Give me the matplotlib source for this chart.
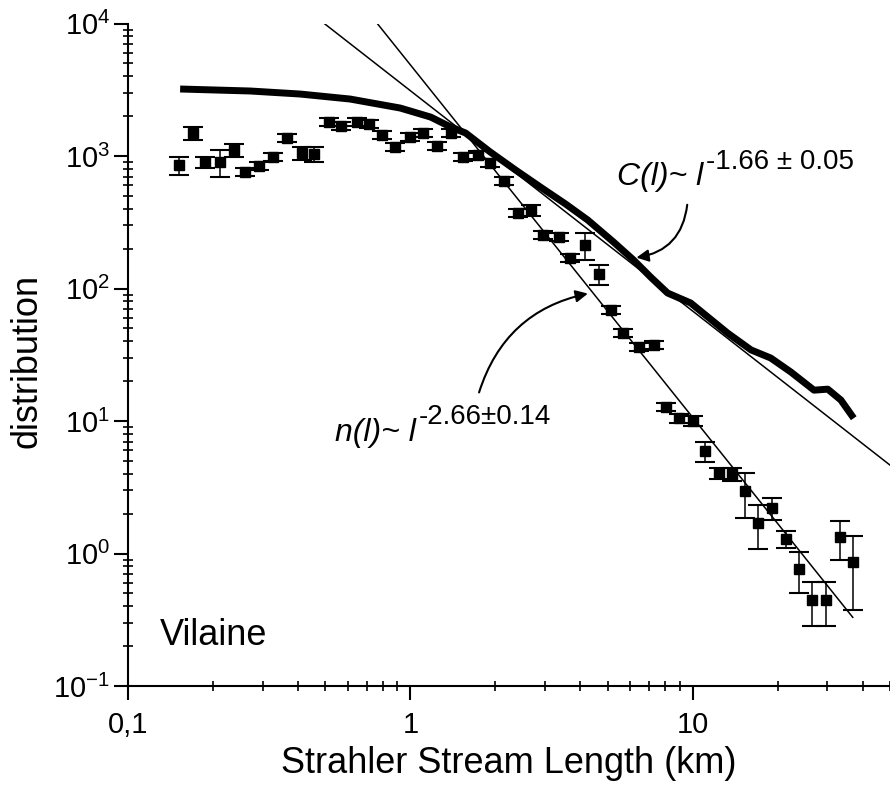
"""Distribusi panjang sungai Strahler (Vilaine), log-log, dengan fit hukum pangkat."""
import matplotlib
matplotlib.use("Agg")
import matplotlib.pyplot as plt
from matplotlib.ticker import FixedLocator, FixedFormatter, LogLocator, NullFormatter

plt.rcParams["font.family"] = ["Liberation Sans", "DejaVu Sans"]
plt.rcParams["mathtext.fontset"] = "custom"
plt.rcParams["mathtext.rm"] = "Liberation Sans"
plt.rcParams["mathtext.it"] = "Liberation Sans:italic"
plt.rcParams["mathtext.bf"] = "Liberation Sans:bold"

# ----- data n(l): titik + galat -----
length_km = [0.152, 0.170, 0.188, 0.212, 0.238, 0.260, 0.291, 0.327, 0.366, 0.414,
             0.457, 0.516, 0.569, 0.649, 0.715, 0.796, 0.885, 1.00, 1.11, 1.24,
             1.39, 1.54, 1.73, 1.91, 2.14, 2.40, 2.67, 2.96, 3.35, 3.69,
             4.14, 4.64, 5.12, 5.65, 6.43, 7.27, 8.02, 8.92, 10.0, 11.1,
             12.4, 13.8, 15.3, 17.1, 19.1, 21.4, 23.8, 26.4, 29.6, 33.2, 36.9]
n_dist = [855, 1492, 901, 901, 1110, 757, 841, 982, 1367, 1054,
          1035, 1806, 1684, 1806, 1744, 1440, 1169, 1391, 1492, 1190,
          1492, 982, 1018, 886, 648, 371, 391, 253, 245, 170,
          213, 129, 68.8, 46.1, 36.2, 37.5, 12.8, 10.5, 10.0, 5.94,
          4.05, 3.98, 2.96, 1.70, 2.20, 1.29, 0.764, 0.446, 0.446, 1.33, 0.863]
n_err = [130, 165, 82, 210, 122, 55, 61, 71, 98, 116,
         134, 130, 121, 130, 126, 104, 84, 100, 107, 86,
         107, 71, 73, 64, 47, 27, 36, 18, 18, 12,
         49, 22, 5.0, 3.3, 2.6, 2.7, 0.92, 0.76, 0.9, 1.0,
         0.37, 0.44, 1.1, 0.62, 0.42, 0.19, 0.26, 0.164, 0.164, 0.43, 0.49]

# ----- distribusi kumulatif C(l) -----
cum_len = [0.153, 0.271, 0.407, 0.612, 0.921, 1.18, 1.39, 1.57, 1.92, 2.36,
           2.89, 3.55, 4.25, 5.25, 6.18, 7.10, 8.15, 9.84, 13.3, 16.1,
           18.9, 22.3, 26.9, 30.1, 33.5, 37.2]
cum_dist = [3206, 3097, 2938, 2693, 2303, 1969, 1656, 1492, 1072, 784,
            583, 434, 329, 224, 164, 122, 92.5, 77.8, 46.1, 34.4,
            29.9, 23.4, 17.1, 17.4, 14.4, 10.5]

# ----- garis fit (ujung-ujung garis pangkat) -----
fit_n_x = [0.764, 36.9]
fit_n_y = [1e4, 0.33]
fit_c_x = [0.496, 50]
fit_c_y = [1e4, 4.65]

x_ticks = [0.1, 1, 10]
x_tick_labels = ["0,1", "1", "10"]
y_ticks = [1e-1, 1e0, 1e1, 1e2, 1e3, 1e4]
y_tick_labels = ["$10^{-1}$", "$10^{0}$", "$10^{1}$", "$10^{2}$", "$10^{3}$", "$10^{4}$"]


def label_pangkat(ax, x, y, main, sup):
    """Teks miring utama + pangkat (teks biasa) yang menempel di kanannya."""
    t = ax.text(x, y, main, transform=ax.transAxes, fontsize=23,
                style="italic", va="baseline")
    ax.annotate(sup, xy=(1, 0), xycoords=t, xytext=(2, 17),
                textcoords="offset points", fontsize=20, va="baseline")


def main():
    fig = plt.figure(figsize=(8.9, 7.93), dpi=100)
    ax = fig.add_axes([0.1438, 0.1349, 0.8562, 0.8354])
    ax.set_xscale("log")
    ax.set_yscale("log")

    ax.plot(fit_n_x, fit_n_y, color="black", lw=1.1)
    ax.plot(fit_c_x, fit_c_y, color="black", lw=1.1)
    ax.plot(cum_len, cum_dist, color="black", lw=5, solid_capstyle="butt",
            solid_joinstyle="round")
    ax.errorbar(length_km, n_dist, yerr=n_err, fmt="s", color="black", ms=7,
                elinewidth=1.1, capsize=7, capthick=1.5)

    ax.set_xlim(0.1, 50)
    ax.set_ylim(0.1, 1e4)

    ax.xaxis.set_major_locator(FixedLocator(x_ticks))
    ax.xaxis.set_major_formatter(FixedFormatter(x_tick_labels))
    ax.yaxis.set_major_locator(FixedLocator(y_ticks))
    ax.yaxis.set_major_formatter(FixedFormatter(y_tick_labels))
    ax.xaxis.set_minor_locator(LogLocator(base=10, subs=range(2, 10), numticks=20))
    ax.yaxis.set_minor_locator(LogLocator(base=10, subs=range(2, 10), numticks=20))
    ax.xaxis.set_minor_formatter(NullFormatter())
    ax.yaxis.set_minor_formatter(NullFormatter())

    for side in ("top", "right"):
        ax.spines[side].set_visible(False)
    for side in ("left", "bottom"):
        ax.spines[side].set_linewidth(1.5)
    ax.tick_params(which="major", direction="out", length=10, width=1.5,
                   labelsize=21)
    ax.tick_params(axis="y", which="major", pad=3)
    ax.tick_params(axis="x", which="major", pad=8)
    ax.tick_params(which="minor", direction="inout", length=7, width=1.2)

    ax.set_xlabel("Strahler Stream Length (km)", fontsize=26)
    ax.set_ylabel("distribution", fontsize=26)
    ax.xaxis.set_label_coords(0.5, -0.09)
    ax.yaxis.set_label_coords(-0.11, 0.49)

    label_pangkat(ax, 0.642, 0.756, "C(l)~ l", "-1.66 \u00b1 0.05")
    label_pangkat(ax, 0.2717, 0.370, "n(l)~ l", "-2.66\u00b10.14")
    ax.text(0.042, 0.062, "Vilaine", transform=ax.transAxes, fontsize=26,
            va="baseline")

    ax.annotate("", xy=(6.18, 170), xytext=(9.59, 450),
                arrowprops=dict(arrowstyle="-|>", color="black", lw=1.5,
                                mutation_scale=18,
                                connectionstyle="arc3,rad=-0.4"))
    ax.annotate("", xy=(4.35, 92.5), xytext=(1.74, 15.7),
                arrowprops=dict(arrowstyle="-|>", color="black", lw=1.5,
                                mutation_scale=18,
                                connectionstyle="arc3,rad=-0.3"))

    fig.savefig("out.png", dpi=100)
    plt.close(fig)
    return 0


if __name__ == "__main__":
    raise SystemExit(main())
